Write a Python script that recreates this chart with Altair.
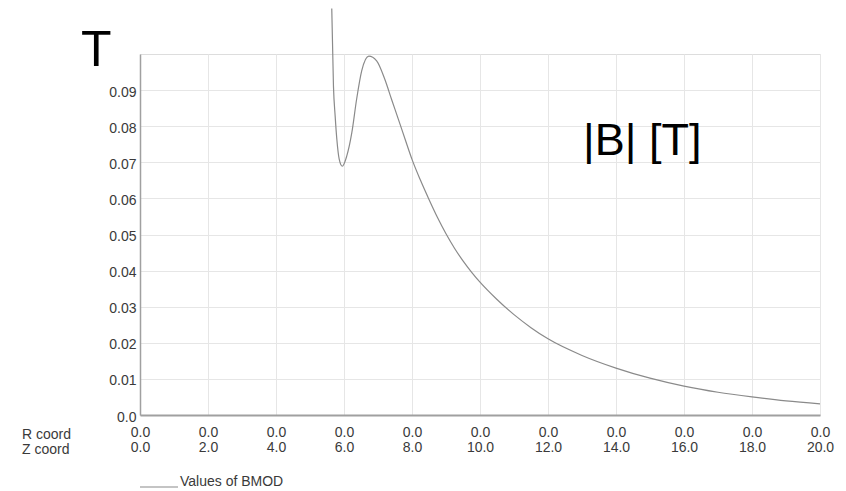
import altair as alt
import pandas as pd

# Data
z_coord = [5.64, 5.69, 5.74, 5.79, 5.86, 5.95, 6.08, 6.23, 6.37, 6.52, 6.73, 6.96,
           7.2, 7.4, 7.6, 7.8, 8.0, 8.25, 8.5, 8.75, 9.0, 9.25, 9.5, 9.75, 10.0, 10.5,
           11.0, 11.5, 12.0, 13.0, 14.0, 15.0, 16.0, 17.0, 18.0, 19.0, 20.0]
bmod = [0.1126, 0.0911, 0.0828, 0.0763, 0.0708, 0.0689, 0.0717, 0.0782, 0.0874, 0.0953,
        0.0994, 0.0981, 0.0930, 0.0874, 0.0819, 0.0763, 0.0708, 0.0650, 0.0597, 0.0547,
        0.0502, 0.0462, 0.0427, 0.0396, 0.0368, 0.0320, 0.0278, 0.0242, 0.0211, 0.0165,
        0.0130, 0.0102, 0.0080, 0.0063, 0.0050, 0.0039, 0.0031]
x_ticks = [0, 2, 4, 6, 8, 10, 12, 14, 16, 18, 20]
y_ticks = [0.0, 0.01, 0.02, 0.03, 0.04, 0.05, 0.06, 0.07, 0.08, 0.09]
unit_label = "T"
quantity_label = "|B| [T]"
row_labels = ["R coord", "Z coord"]
legend_label = "Values of BMOD"

df = pd.DataFrame({"z": z_coord, "b": bmod})

FONT = "Liberation Sans"
W, H = 680, 361

line = alt.Chart(df).mark_line(color="#8a8a8a", strokeWidth=1.2, interpolate="monotone").encode(
    x=alt.X("z:Q",
            scale=alt.Scale(domain=[0, 20], nice=False),
            axis=alt.Axis(values=x_ticks, title=None, ticks=False, grid=True,
                          gridColor="#e6e6e6", gridWidth=1,
                          domainColor="#a0a0a0", domainWidth=2,
                          labelExpr="['0.0', format(datum.value, '.1f')]",
                          labelFont=FONT, labelFontSize=14, labelColor="#3a3a3a",
                          labelLineHeight=15, labelPadding=10, labelFlush=False,
                          labelOverlap=False)),
    y=alt.Y("b:Q",
            scale=alt.Scale(domain=[0, 0.1], nice=False, zero=True),
            axis=alt.Axis(values=y_ticks, title=None, ticks=False, grid=True,
                          gridColor="#e6e6e6", gridWidth=1,
                          domainColor="#a0a0a0", domainWidth=1.5,
                          labelExpr="datum.value == 0 ? '0.0' : format(datum.value, '.2f')",
                          labelFont=FONT, labelFontSize=14, labelColor="#3a3a3a",
                          labelPadding=4, labelOffset=2, labelFlush=False,
                          labelOverlap=False)),
)

t_unit = alt.Chart(pd.DataFrame({"t": [unit_label]})).mark_text(
    font=FONT, fontSize=50, color="#000000", align="left", baseline="alphabetic"
).encode(x=alt.value(-59), y=alt.value(12), text="t:N")

t_qty = alt.Chart(pd.DataFrame({"t": [quantity_label]})).mark_text(
    font=FONT, fontSize=45, color="#000000", align="left", baseline="alphabetic"
).encode(x=alt.value(443), y=alt.value(101), text="t:N")

t_r = alt.Chart(pd.DataFrame({"t": [row_labels[0]]})).mark_text(
    font=FONT, fontSize=14, color="#3a3a3a", align="left", baseline="middle"
).encode(x=alt.value(-118), y=alt.value(381), text="t:N")

t_z = alt.Chart(pd.DataFrame({"t": [row_labels[1]]})).mark_text(
    font=FONT, fontSize=14, color="#3a3a3a", align="left", baseline="middle"
).encode(x=alt.value(-118), y=alt.value(396), text="t:N")

leg_line = alt.Chart(pd.DataFrame({"t": [legend_label]})).mark_rule(
    color="#8a8a8a", strokeWidth=1.2
).encode(x=alt.value(0), x2=alt.value(38), y=alt.value(433))

leg_text = alt.Chart(pd.DataFrame({"t": [legend_label]})).mark_text(
    font=FONT, fontSize=14, color="#3a3a3a", align="left", baseline="alphabetic"
).encode(x=alt.value(40), y=alt.value(432), text="t:N")

chart = alt.layer(line, t_unit, t_qty, t_r, t_z, leg_line, leg_text).properties(
    width=W, height=H,
    autosize=alt.AutoSizeParams(type="none"),
    padding={"left": 140, "top": 54, "right": 26, "bottom": 76},
).configure_view(stroke=None).configure(background="white")

chart.save("out.html", embed_options={"renderer": "svg", "actions": False})
